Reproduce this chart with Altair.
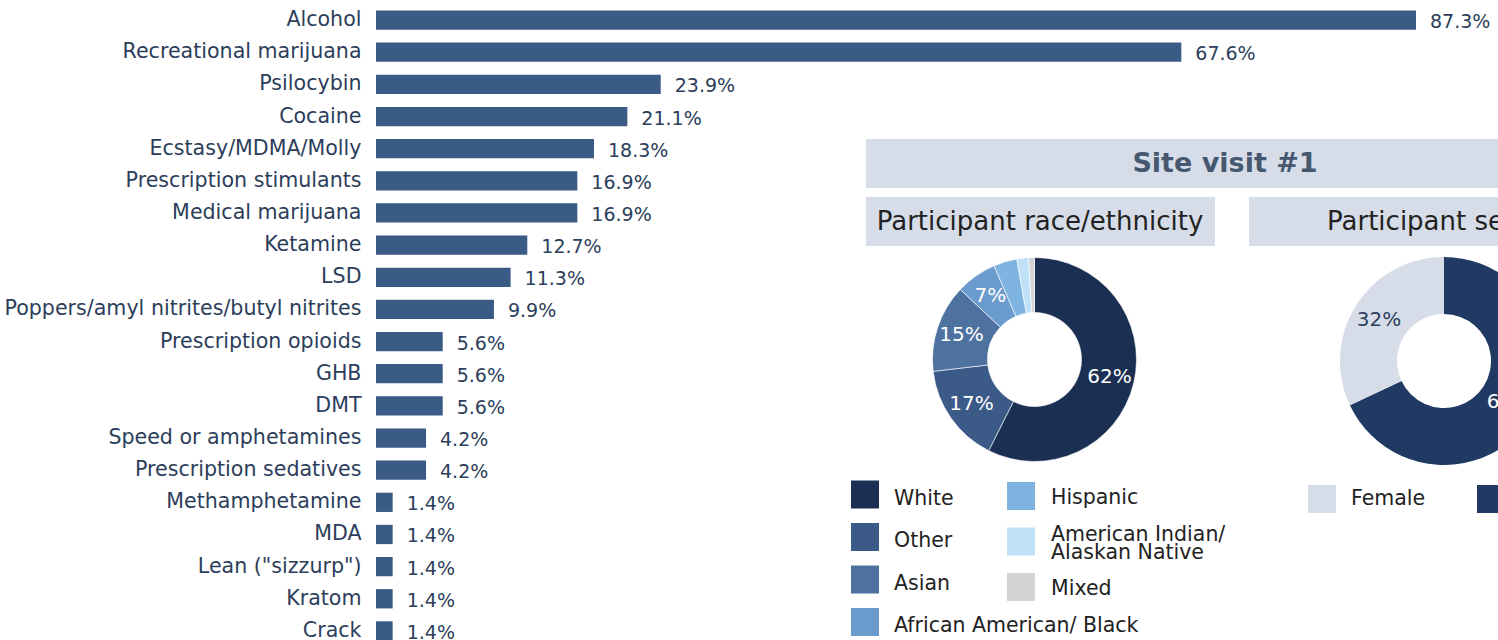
import altair as alt
import pandas as pd

# ---------------- data ----------------
drugs = ["Alcohol", "Recreational marijuana", "Psilocybin", "Cocaine", "Ecstasy/MDMA/Molly",
         "Prescription stimulants", "Medical marijuana", "Ketamine", "LSD",
         "Poppers/amyl nitrites/butyl nitrites", "Prescription opioids", "GHB", "DMT",
         "Speed or amphetamines", "Prescription sedatives", "Methamphetamine", "MDA",
         "Lean (\"sizzurp\")", "Kratom", "Crack"]
drug_pct = [87.3, 67.6, 23.9, 21.1, 18.3, 16.9, 16.9, 12.7, 11.3, 9.9, 5.6, 5.6, 5.6,
            4.2, 4.2, 1.4, 1.4, 1.4, 1.4, 1.4]

race_groups = ["White", "Other", "Asian", "African American/ Black", "Hispanic",
               "American Indian/ Alaskan Native", "Mixed"]
race_pct = [62, 17, 15, 7, 4, 2, 1]
race_labels = ["62%", "17%", "15%", "7%", "", "", ""]
race_colors = ["#1b2f52", "#3b5a87", "#4d72a0", "#6a9bcc", "#80b4e0", "#bee1f8", "#d4d4d6"]

sex_groups = ["Male", "Female"]
sex_pct = [68, 32]
sex_labels = ["68%", "32%"]
sex_colors = ["#213a63", "#d6dde9"]

legend_col1 = ["White", "Other", "Asian", "African American/ Black"]
legend_col2 = ["Hispanic", "American Indian/ Alaskan Native", "Mixed"]
legend_col2_text = ["Hispanic", ["American Indian/", "Alaskan Native"], "Mixed"]

title_main = "Site visit #1"
title_race = "Participant race/ethnicity"
title_sex = "Participant sex"

# ---------------- layout ----------------
LEFT, TOP = 376, 4
W = 1498 - LEFT
H = 636
FONT = "DejaVu Sans"
TEXT = "#2c3e5a"
BG = "#d7dde8"


def px(x):
    return x - LEFT


def py(y):
    return y - TOP


one = pd.DataFrame({"k": [0]})

# ---------------- bar chart ----------------
bars_df = pd.DataFrame({"drug": drugs, "pct": drug_pct,
                        "label": [f"{v}%" for v in drug_pct]})
bbase = alt.Chart(bars_df).encode(
    y=alt.Y("drug:N", sort=drugs,
            scale=alt.Scale(paddingInner=0.4, paddingOuter=0.2, range=[0, 643]),
            axis=alt.Axis(title=None, domain=False, ticks=False, labelFontSize=20.6,
                          labelFont=FONT, labelColor=TEXT, labelPadding=15,
                          labelLimit=600)),
    x=alt.X("pct:Q", scale=alt.Scale(domain=[0, 87.3 * W / 1040], nice=False, zero=True),
            axis=None),
)
bars = bbase.mark_bar(color="#3b5b87")
bar_text = bbase.mark_text(align="left", baseline="middle", dx=14, dy=2, fontSize=19,
                           font=FONT, color=TEXT).encode(text="label:N")
bar_layer = alt.layer(bars, bar_text)


# ---------------- banners ----------------
def rect(x0, x1, y0, y1):
    return alt.Chart(one).mark_rect(color=BG).encode(
        x=alt.value(px(x0)), x2=alt.value(px(x1)),
        y=alt.value(py(y0)), y2=alt.value(py(y1)))


def label(txt, x, y, size, color, weight="normal"):
    return alt.Chart(one).mark_text(align="center", baseline="middle", fontSize=size,
                                    font=FONT, color=color, fontWeight=weight).encode(
        x=alt.value(px(x)), y=alt.value(py(y)), text=alt.value(txt))


banner_main = rect(866, 1590, 139, 188)
banner_main_t = label(title_main, 1225, 164, 27, "#465870", "bold")
banner_race = rect(866, 1215, 197, 246)
banner_race_t = label(title_race, 1040, 222, 26, "#222222")
banner_sex = rect(1249, 1598, 197, 246)
banner_sex_t = label(title_sex, 1423, 222, 26, "#222222")

# ---------------- race donut ----------------
race_df = pd.DataFrame({"group": race_groups, "pct": race_pct, "label": race_labels,
                        "ord": list(range(len(race_groups)))})
race_scale = alt.Scale(domain=race_groups, range=race_colors)
rbase = alt.Chart(race_df).encode(
    theta=alt.Theta("pct:Q", stack=True),
    order=alt.Order("ord:Q"),
    x=alt.value(px(1034.5)), y=alt.value(py(359.5)),
)
race_arcs = rbase.mark_arc(innerRadius=47, outerRadius=102, stroke="white",
                           strokeWidth=0.6).encode(
    color=alt.Color("group:N", scale=race_scale, legend=None))
race_text = rbase.mark_text(radius=77, fontSize=20, font=FONT).encode(
    text="label:N", color=alt.value("white"))
race_layer = alt.layer(race_arcs, race_text)

# ---------------- sex donut ----------------
sex_df = pd.DataFrame({"group": sex_groups, "pct": sex_pct, "label": sex_labels,
                       "ord": [0, 1]})
sex_scale = alt.Scale(domain=sex_groups, range=sex_colors)
sbase = alt.Chart(sex_df).encode(
    theta=alt.Theta("pct:Q", stack=True),
    order=alt.Order("ord:Q"),
    x=alt.value(px(1444)), y=alt.value(py(361)),
)
sex_arcs = sbase.mark_arc(innerRadius=47, outerRadius=104).encode(
    color=alt.Color("group:N", scale=sex_scale, legend=None))
sex_text = sbase.mark_text(radius=77, fontSize=20, font=FONT).encode(
    text="label:N",
    color=alt.condition("datum.group == 'Female'", alt.value(TEXT), alt.value("white")))
sex_layer = alt.layer(sex_arcs, sex_text)

# ---------------- legends ----------------
LEG_FS = 20.5
LINE_H = 18
leg1 = alt.Chart(alt.Data(values=[{"group": g, "row": i, "text": g}
                                  for i, g in enumerate(legend_col1)]))
leg1_y = alt.Y("row:Q", scale=alt.Scale(domain=[0, 3], range=[py(494.5), py(622)]), axis=None)
leg1_sq = leg1.mark_square(size=784, opacity=1).encode(
    x=alt.value(px(865)), y=leg1_y,
    color=alt.Color("group:N", scale=race_scale, legend=None))
leg1_tx = leg1.mark_text(align="left", baseline="middle", fontSize=LEG_FS, font=FONT,
                         color="#222222", dy=4).encode(
    x=alt.value(px(894)), y=leg1_y, text="text:N")
leg1_layer = alt.layer(leg1_sq, leg1_tx)

ROW2_PX = (587 - 496) / 2
leg2 = alt.Chart(alt.Data(values=[{"group": g, "row": i, "text": t}
                                  for i, (g, t) in enumerate(zip(legend_col2, legend_col2_text))]))
leg2_scale = alt.Scale(domain=[0, 2], range=[py(496), py(587)])
leg2_sq = leg2.mark_square(size=784, opacity=1).encode(
    x=alt.value(px(1021)), y=alt.Y("row:Q", scale=leg2_scale, axis=None),
    color=alt.Color("group:N", scale=race_scale, legend=None))
leg2_tx = leg2.transform_calculate(
    ty=f"datum.row - (isArray(datum.text) ? (length(datum.text) - 1) * {LINE_H / 2 / ROW2_PX} : 0)"
).mark_text(align="left", baseline="middle", fontSize=LEG_FS, font=FONT,
            color="#222222", lineHeight=LINE_H, dy=2).encode(
    x=alt.value(px(1051)), y=alt.Y("ty:Q", scale=leg2_scale, axis=None), text="text:N")
leg2_layer = alt.layer(leg2_sq, leg2_tx)

leg3 = alt.Chart(alt.Data(values=[{"group": g, "col": i} for i, g in
                                  enumerate(["Female", "Male"])]))
leg3_x = alt.X("col:Q", scale=alt.Scale(domain=[0, 1], range=[px(1322), px(1491)]), axis=None)
leg3_sq = leg3.mark_square(size=784, opacity=1).encode(
    x=leg3_x, y=alt.value(py(499)),
    color=alt.Color("group:N", scale=sex_scale, legend=None))
leg3_tx = leg3.mark_text(align="left", baseline="middle", fontSize=LEG_FS, font=FONT,
                         color="#222222", dx=29).encode(
    x=leg3_x, y=alt.value(py(499)), text="group:N")
leg3_layer = alt.layer(leg3_sq, leg3_tx)

chart = alt.layer(
    banner_main, banner_race, banner_sex,
    banner_main_t, banner_race_t, banner_sex_t,
    bar_layer, race_layer, sex_layer,
    leg1_layer, leg2_layer, leg3_layer,
).resolve_scale(
    x="independent", y="independent", theta="independent", color="independent"
).properties(
    width=W, height=H,
    padding={"left": LEFT, "top": TOP, "right": 0, "bottom": 0},
    autosize=alt.AutoSizeParams(type="none"),
    background="white",
).configure_view(stroke=None)

chart.save("out.html", embed_options={"renderer": "svg", "actions": False})
